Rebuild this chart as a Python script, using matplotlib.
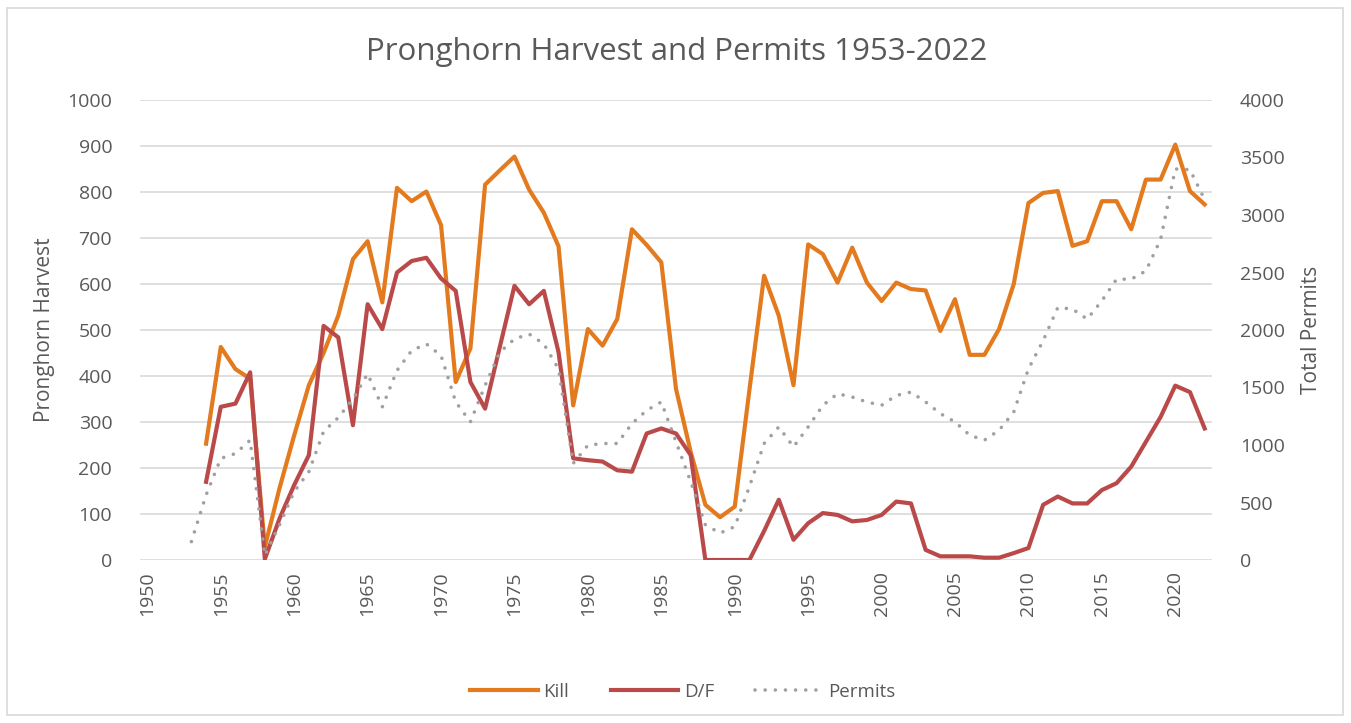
import matplotlib.pyplot as plt
from matplotlib.patches import Rectangle

plt.rcParams['font.family'] = ['Open Sans', 'DejaVu Sans']

# harvest data
kill_years = list(range(1954, 2023))
kill = [253, 463, 415, 394, 28, 156,
        271, 380, 450, 531, 654, 693, 560, 809, 780, 801,
        728, 387, 460, 816, 847, 877, 805, 755, 682, 336,
        502, 466, 524, 719, 685, 647, 372, 235, 120, 93,
        116, 370, 618, 531, 380, 686, 665, 603, 679, 603,
        563, 603, 589, 586, 498, 567, 446, 446, 502, 600,
        776, 798, 802, 683, 693, 780, 780, 719, 827, 827,
        903, 802, 773]
df = [170, 333, 340, 408, 2, 90,
      163, 228, 509, 484, 293, 556, 502, 625, 650, 657,
      612, 585, 387, 329, 463, 596, 556, 585, 452, 221,
      217, 214, 195, 192, 275, 286, 275, 228, 0, 0,
      0, 0, 63, 131, 44, 80, 102, 98, 84, 87,
      98, 127, 123, 22, 8, 8, 8, 5, 5, 15,
      26, 120, 138, 123, 123, 152, 167, 203, 257, 311,
      379, 365, 286]

# permits, right axis
permit_years = list(range(1953, 2023))
permits = [160,
           565, 883, 926, 1042, 40, 306,
           595, 768, 1117, 1238, 1400, 1619, 1331, 1648, 1821, 1879,
           1778, 1374, 1201, 1518, 1807, 1922, 1965, 1879, 1662, 840,
           998, 1013, 1013, 1186, 1301, 1374, 1028, 681, 306, 234,
           290, 638, 1013, 1157, 984, 1157, 1345, 1446, 1417, 1374,
           1345, 1431, 1460, 1374, 1273, 1201, 1085, 1042, 1128, 1287,
           1662, 1907, 2196, 2182, 2095, 2254, 2442, 2442, 2514, 2788,
           3400, 3394, 3134]

txt = '#595959'
grid = '#D9D9D9'

fig = plt.figure(figsize=(13.51, 7.23), dpi=100)
fig.patches.append(Rectangle((7/1351, 8/723), 1336/1351, 707/723, transform=fig.transFigure,
                             fill=False, edgecolor=grid, lw=1.2))

ax = fig.add_axes([140/1351, 163/723, 1072/1351, 460/723])
ax2 = ax.twinx()

l1, = ax.plot(kill_years, kill, color='#E47A1E', lw=3, label='Kill', zorder=3)
l2, = ax.plot(kill_years, df, color='#BA4A4A', lw=3, label='D/F', zorder=3)
l3, = ax2.plot(permit_years, permits, color='#A0A0A0', lw=2.6,
               linestyle=(0, (0.01, 2.8)), dash_capstyle='round', label='Permits')

ax.set_xlim(1949.5, 2022.5)
ax.set_ylim(0, 1000)
ax2.set_ylim(0, 4000)
ax.set_yticks(range(0, 1001, 100))
ax2.set_yticks(range(0, 4001, 500))
ax.set_xticks(range(1950, 2021, 5))
ax.tick_params(axis='x', labelrotation=90, length=0, pad=8, labelsize=14, colors=txt)
ax.tick_params(axis='y', length=0, pad=20, labelsize=14, colors=txt)
ax2.tick_params(axis='y', length=0, pad=20, labelsize=14, colors=txt)
ax.yaxis.grid(True, color=grid, lw=1.2)
ax.set_axisbelow(True)
for a in (ax, ax2):
    for s in a.spines.values():
        s.set_visible(False)

ax.set_ylabel('Pronghorn Harvest', fontsize=15, color=txt, labelpad=9)
ax2.set_ylabel('Total Permits', fontsize=15, color=txt, rotation=90, labelpad=12)

fig.text(677/1351, 1 - 52/723, 'Pronghorn Harvest and Permits 1953-2022',
         ha='center', va='center', fontsize=22.5, color=txt)

fig.legend(handles=[l1, l2, l3], loc='center', bbox_to_anchor=(683/1351, 1 - 692/723),
           ncol=3, frameon=False, fontsize=13.5, handlelength=3.6, columnspacing=2.2,
           handletextpad=0.3, labelcolor=txt)

fig.savefig('out.png', dpi=100)
